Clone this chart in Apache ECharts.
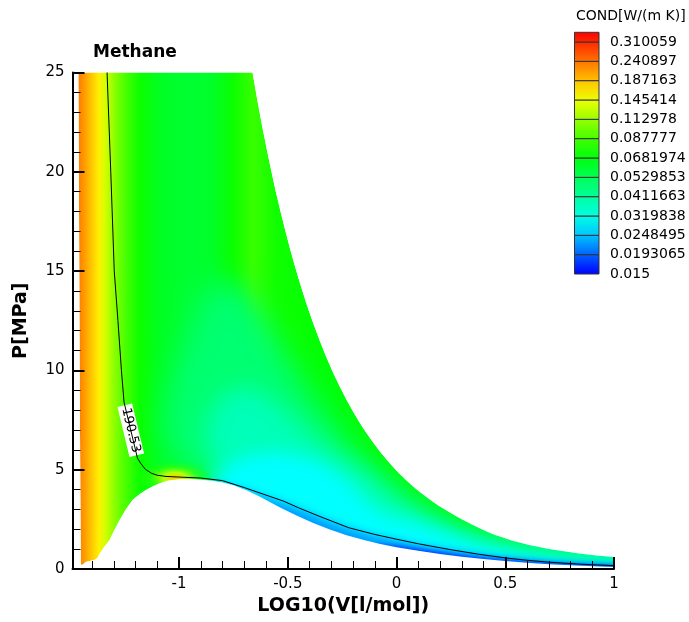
<!DOCTYPE html>
<html>
<head>
<meta charset="utf-8">
<title>Methane thermal conductivity</title>
<script src="https://cdn.jsdelivr.net/npm/echarts@6/dist/echarts.min.js"></script>
<style>
  html, body { margin: 0; padding: 0; background: #fff; }
  #chart { width: 689px; height: 622px; }
</style>
</head>
<body>
<div id="chart"></div>
<script>
// ---- Colour-bar levels of thermal conductivity, W/(m K) ----
const LEVELS = [0.015, 0.0193065, 0.0248495, 0.0319838, 0.0411663, 0.0529853, 0.0681974,
                0.087777, 0.112978, 0.145414, 0.187163, 0.240897, 0.310059];
const LEVEL_LABELS = ['0.015', '0.0193065', '0.0248495', '0.0319838', '0.0411663', '0.0529853',
                      '0.0681974', '0.087777', '0.112978', '0.145414', '0.187163', '0.240897', '0.310059'];
const BAR_TOP_K = 0.3518;   // conductivity at the top of the colour bar

// ---- Domain of the data: log10(V [l/mol]) vs P [MPa] ----
const LEFT_EDGE = [[-1.463, 25], [-1.460, 18], [-1.457, 10], [-1.454, 4], [-1.452, 0.2]];
const LOWER_EDGE = [
  [-1.452, 0.2], [-1.44, 0.24], [-1.43, 0.35], [-1.41, 0.4], [-1.39, 0.45], [-1.375, 0.55],
  [-1.363, 0.8], [-1.345, 1.1], [-1.32, 1.45], [-1.30, 1.9], [-1.274, 2.46], [-1.245, 3.0],
  [-1.214, 3.47], [-1.18, 3.78], [-1.15, 3.99], [-1.12, 4.17], [-1.09, 4.32], [-1.05, 4.45],
  [-1.0, 4.52], [-0.95, 4.53], [-0.9, 4.5], [-0.846, 4.44], [-0.8, 4.36], [-0.75, 4.22],
  [-0.69, 3.97], [-0.63, 3.65], [-0.54, 3.12], [-0.46, 2.7], [-0.386, 2.33], [-0.31, 2.0],
  [-0.23, 1.7], [-0.15, 1.46], [-0.08, 1.27], [0.0, 1.1], [0.1, 0.92], [0.2, 0.76], [0.3, 0.62],
  [0.4, 0.5], [0.5, 0.4], [0.6, 0.31], [0.7, 0.24], [0.85, 0.16], [1.0, 0.1]
];
const UPPER_EDGE = [
  [-0.662, 25], [-0.64, 23.6], [-0.618, 22.3], [-0.598, 21.2], [-0.578, 20.15], [-0.555, 19.0],
  [-0.53, 17.85], [-0.51, 16.98], [-0.49, 16.14], [-0.468, 15.28], [-0.446, 14.46], [-0.416, 13.42],
  [-0.386, 12.46], [-0.353, 11.49], [-0.32, 10.6], [-0.29, 9.85], [-0.26, 9.16], [-0.23, 8.52],
  [-0.2, 7.93], [-0.17, 7.38], [-0.14, 6.87], [-0.105, 6.33], [-0.07, 5.83], [-0.035, 5.37],
  [0.0, 4.95], [0.04, 4.52], [0.075, 4.17], [0.11, 3.85], [0.15, 3.52], [0.19, 3.21], [0.23, 2.94],
  [0.265, 2.72], [0.3, 2.5], [0.34, 2.28], [0.38, 2.06], [0.415, 1.89], [0.45, 1.73],
  [0.49, 1.58], [0.53, 1.44], [0.57, 1.32], [0.61, 1.21], [0.65, 1.12], [0.69, 1.03], [0.73, 0.96],
  [0.77, 0.89], [0.84, 0.78], [0.92, 0.68], [1.0, 0.6]
];

// ---- Conductivity across the dense (liquid / supercritical) side, by log10(V) ----
const LIQ_X = [-1.463, -1.43, -1.40, -1.37, -1.34, -1.30, -1.25, -1.18, -1.08, -0.95, -0.85,
               -0.75, -0.66, -0.55, -0.3, 1.0];
const LIQ_K = [0.235, 0.207, 0.182, 0.161, 0.135, 0.110, 0.090, 0.074, 0.063, 0.060, 0.062,
               0.074, 0.085, 0.075, 0.070, 0.068];

// ---- Iso-conductivity lines on the vapour side (log10(V), P) ----
const CONT_053 = [[-0.86, 4.3], [-0.9, 4.8], [-0.98, 5.3], [-1.04, 5.9], [-1.07, 7.5], [-1.04, 9.0],
  [-1.0, 10.5], [-0.95, 12.0], [-0.9, 13.5], [-0.84, 14.4], [-0.76, 14.6], [-0.67, 13.7],
  [-0.59, 12.4], [-0.52, 11.0], [-0.45, 9.8], [-0.38, 8.7], [-0.3, 7.5], [-0.22, 6.3],
  [-0.12, 5.2], [-0.03, 4.4], [0.08, 3.5], [0.17, 2.9], [0.3, 2.05], [0.45, 1.42], [0.6, 1.03],
  [0.8, 0.72], [1.05, 0.5]];
const CONT_041 = [[-0.82, 4.2], [-0.83, 5.0], [-0.87, 6.0], [-0.88, 7.0], [-0.85, 8.0], [-0.78, 8.9],
  [-0.68, 9.2], [-0.58, 8.6], [-0.48, 7.6], [-0.38, 6.6], [-0.28, 5.8], [-0.16, 5.0], [-0.08, 4.3],
  [0.0, 3.5], [0.075, 2.95], [0.2, 2.25], [0.35, 1.6], [0.53, 1.09], [0.7, 0.8], [0.85, 0.62],
  [1.05, 0.46]];
const CONT_032 = [[-0.84, 4.3], [-0.8, 5.0], [-0.72, 5.6], [-0.6, 5.9], [-0.47, 5.8], [-0.36, 5.4],
  [-0.28, 4.9], [-0.2, 4.2], [-0.14, 3.4], [-0.07, 2.8], [0.0, 2.55], [0.075, 2.4], [0.2, 1.9],
  [0.35, 1.35], [0.53, 0.88], [0.7, 0.6], [0.85, 0.45], [1.05, 0.33]];
const CONT_025 = [[-0.86, 4.3], [-0.8, 4.26], [-0.7, 3.97], [-0.6, 3.6], [-0.5, 3.25], [-0.4, 2.8],
  [-0.3, 2.36], [-0.2, 1.98], [-0.1, 1.68], [0.0, 1.45], [0.1, 1.2], [0.25, 0.93], [0.4, 0.68],
  [0.55, 0.5], [0.7, 0.34], [0.85, 0.25], [1.05, 0.17]];
const CONT_019 = [[-0.1, 1.2], [0.0, 1.15], [0.1, 0.99], [0.2, 0.84], [0.3, 0.69], [0.4, 0.57],
  [0.5, 0.47], [0.6, 0.38], [0.7, 0.3], [0.85, 0.22], [1.05, 0.14]];
const CONTOURS = [CONT_053, CONT_041, CONT_032, CONT_025, CONT_019];
// conductivity inside each iso-line (below the level it traces)
const CONT_INNER_K = [0.0479, 0.0372, 0.0289, 0.0225, 0.0170];

// ---- Critical point enhancement ----
const CRIT_POINT = [-1.02, 4.6];
const CRIT_K = 0.18;

// ---- Critical isotherm, T = 190.53 K ----
const ISO_T = 190.53;
const ISO = [[-1.331, 25], [-1.314, 20], [-1.298, 15], [-1.281, 12.5], [-1.265, 10], [-1.253, 8.4],
  [-1.191, 5.57], [-1.175, 5.3], [-1.155, 5.02], [-1.127, 4.82], [-1.1, 4.72], [-1.06, 4.66],
  [-1.0, 4.63], [-0.9, 4.58], [-0.8, 4.45], [-0.7, 4.1], [-0.6, 3.72], [-0.52, 3.42], [-0.45, 3.08],
  [-0.37, 2.72], [-0.3, 2.42], [-0.22, 2.08], [-0.1, 1.74], [0.0, 1.5], [0.1, 1.27], [0.245, 0.98],
  [0.38, 0.74], [0.506, 0.55], [0.6, 0.44], [0.705, 0.34], [0.85, 0.24], [1.0, 0.17]];
const ISO_LABEL_SEG = 5;   // label sits on the segment starting at this point

// ---------------------------------------------------------------------------
const FONT = 'DejaVu Sans';

// rainbow colour map over the level index (0 = 0.015 ... 12.5 = top of bar)
const RAMP = [[0, [0, 0, 255]], [2.6, [0, 255, 255]], [6.2, [0, 255, 0]], [9.2, [255, 255, 0]], [12.5, [255, 0, 0]]];

function kToIndex(k) {
  const n = LEVELS.length;
  for (let i = 0; i < n - 1; i++) {
    if (k < LEVELS[i + 1]) return i + Math.log(k / LEVELS[i]) / Math.log(LEVELS[i + 1] / LEVELS[i]);
  }
  return (n - 1) + Math.log(k / LEVELS[n - 1]) / Math.log(LEVELS[n - 1] / LEVELS[n - 2]);
}
function indexColor(t, a) {
  const alpha = a == null ? 1 : a;
  t = Math.max(RAMP[0][0], Math.min(RAMP[RAMP.length - 1][0], t));
  for (let i = 0; i < RAMP.length - 1; i++) {
    const [t0, c0] = RAMP[i], [t1, c1] = RAMP[i + 1];
    if (t <= t1) {
      const f = (t - t0) / (t1 - t0);
      const c = c0.map((v, j) => Math.round(v + (c1[j] - v) * f));
      return 'rgba(' + c[0] + ',' + c[1] + ',' + c[2] + ',' + alpha + ')';
    }
  }
  return 'rgba(255,0,0,' + alpha + ')';
}
function kColor(k, a) { return indexColor(kToIndex(k), a); }

const FAR_LEFT = -2, FAR_RIGHT = 2, FAR_BELOW = -5, FAR_ABOVE = 30;
// flood regions are painted only through their blurred shadow, so level changes stay smooth
const SHADOW_SHIFT = 2000;
const CONT_BLUR = [28, 22, 18, 9, 5];

function regionPolygon() {
  return LEFT_EDGE.concat(LOWER_EDGE.slice(1), UPPER_EDGE.slice().reverse());
}

const chart = echarts.init(document.getElementById('chart'), null, { renderer: 'canvas' });

const BAR_TOP_INDEX = kToIndex(BAR_TOP_K);

const option = {
  animation: false,
  backgroundColor: '#fff',
  textStyle: { fontFamily: FONT, color: '#000' },
  title: [
    { text: 'Methane', left: 93, top: 44, padding: 0,
      textStyle: { fontFamily: FONT, fontWeight: 'bold', fontSize: 17, color: '#000' } },
    { text: 'COND[W/(m K)]', left: 576, top: 9, padding: 0,
      textStyle: { fontFamily: FONT, fontWeight: 'normal', fontSize: 14, color: '#000' } }
  ],
  grid: [
    { left: 72.5, top: 72.5, width: 541.5, height: 496.5, outerBoundsMode: 'none' },
    { left: 574.5, top: 32.3, width: 24.5, height: 241.7, outerBoundsMode: 'none' }
  ],
  xAxis: [
    {
      gridIndex: 0, type: 'value', min: -1.49, max: 1, z: 10,
      name: 'LOG10(V[l/mol])', nameLocation: 'middle', nameGap: 21,
      nameTextStyle: { fontFamily: FONT, fontWeight: 'bold', fontSize: 19, color: '#000' },
      axisLine: { onZero: false, lineStyle: { color: '#000', width: 2 } },
      axisTick: { inside: true, length: 12, lineStyle: { color: '#000', width: 2 } },
      minorTick: { show: true, splitNumber: 5, length: 8, lineStyle: { color: '#000', width: 1 } },
      splitLine: { show: false },
      axisLabel: { color: '#000', fontFamily: FONT, fontSize: 15, margin: 8, showMinLabel: false }
    },
    { gridIndex: 1, type: 'value', min: 0, max: 1, show: false }
  ],
  yAxis: [
    {
      gridIndex: 0, type: 'value', min: 0, max: 25, interval: 5, z: 10,
      name: 'P[MPa]', nameLocation: 'middle', nameGap: 42,
      nameTextStyle: { fontFamily: FONT, fontWeight: 'bold', fontSize: 19, color: '#000' },
      axisLine: { onZero: false, lineStyle: { color: '#000', width: 2 } },
      axisTick: { inside: true, length: 12, lineStyle: { color: '#000', width: 2 } },
      minorTick: { show: true, splitNumber: 5, length: 8, lineStyle: { color: '#000', width: 1 } },
      splitLine: { show: false },
      axisLabel: { color: '#000', fontFamily: FONT, fontSize: 15, margin: 8 }
    },
    {
      gridIndex: 1, type: 'value', min: 0, max: BAR_TOP_INDEX, interval: 1, position: 'right', z: 20,
      axisLine: { show: false }, axisTick: { show: false }, splitLine: { show: false },
      axisLabel: {
        color: '#000', fontFamily: FONT, fontSize: 14, margin: 11,
        formatter: v => (Number.isInteger(v) && LEVEL_LABELS[v] != null) ? LEVEL_LABELS[v] : ''
      }
    }
  ],
  series: [
    // dense-side conductivity across the whole domain
    {
      type: 'custom', coordinateSystem: 'cartesian2d', xAxisIndex: 0, yAxisIndex: 0,
      clip: true, silent: true, data: [LEFT_EDGE[0]],
      renderItem(params, api) {
        const pts = regionPolygon().map(p => api.coord(p));
        const x0 = api.coord([LIQ_X[0], 0])[0];
        const x1 = api.coord([LIQ_X[LIQ_X.length - 1], 0])[0];
        const stops = LIQ_X.map((x, i) => ({
          offset: (api.coord([x, 0])[0] - x0) / (x1 - x0),
          color: kColor(LIQ_K[i])
        }));
        return {
          type: 'polygon', shape: { points: pts },
          style: { fill: new echarts.graphic.LinearGradient(x0, 0, x1, 0, stops, true) }
        };
      }
    },
    // vapour-side iso-conductivity regions, lowest conductivity drawn last
    {
      type: 'custom', coordinateSystem: 'cartesian2d', xAxisIndex: 0, yAxisIndex: 0,
      clip: true, silent: true, data: CONTOURS.map(c => c[0]),
      renderItem(params, api) {
        const i = params.dataIndex;
        const c = CONTOURS[i];
        const last = c[c.length - 1];
        const ring = c.concat([[FAR_RIGHT, last[1]], [FAR_RIGHT, FAR_BELOW], [c[0][0], FAR_BELOW]]);
        const col = kColor(CONT_INNER_K[i]);
        return {
          type: 'polygon', x: SHADOW_SHIFT,
          shape: { points: ring.map(p => api.coord(p)) },
          style: { fill: col, shadowBlur: CONT_BLUR[i], shadowColor: col, shadowOffsetX: -SHADOW_SHIFT }
        };
      }
    },
    // conductivity peak at the critical point
    {
      type: 'custom', coordinateSystem: 'cartesian2d', xAxisIndex: 0, yAxisIndex: 0,
      clip: true, silent: true, data: [CRIT_POINT],
      renderItem(params, api) {
        const c = api.coord(CRIT_POINT);
        const idx = kToIndex(CRIT_K);
        return {
          type: 'circle', x: c[0], y: c[1], scaleY: 0.45,
          shape: { cx: 0, cy: 0, r: 38 },
          style: {
            fill: new echarts.graphic.RadialGradient(0.5, 0.5, 0.5, [
              { offset: 0, color: indexColor(idx, 1) },
              { offset: 0.3, color: indexColor(idx - 1.3, 0.9) },
              { offset: 0.65, color: indexColor(7.0, 0.45) },
              { offset: 1, color: indexColor(6.5, 0) }
            ])
          }
        };
      }
    },
    // blank outside the domain: left strip + two-phase dome, and the high-volume corner
    {
      type: 'custom', coordinateSystem: 'cartesian2d', xAxisIndex: 0, yAxisIndex: 0,
      clip: true, silent: true, data: [LOWER_EDGE[0], UPPER_EDGE[0]],
      renderItem(params, api) {
        let ring;
        if (params.dataIndex === 0) {
          const lastLow = LOWER_EDGE[LOWER_EDGE.length - 1];
          ring = [[FAR_LEFT, FAR_ABOVE], [LEFT_EDGE[0][0], FAR_ABOVE]]
            .concat(LEFT_EDGE, LOWER_EDGE.slice(1),
              [[FAR_RIGHT, lastLow[1]], [FAR_RIGHT, FAR_BELOW], [FAR_LEFT, FAR_BELOW]]);
        } else {
          const lastUp = UPPER_EDGE[UPPER_EDGE.length - 1];
          ring = [[UPPER_EDGE[0][0], FAR_ABOVE]].concat(UPPER_EDGE,
            [[FAR_RIGHT, lastUp[1]], [FAR_RIGHT, FAR_ABOVE]]);
        }
        return { type: 'polygon', shape: { points: ring.map(p => api.coord(p)) }, style: { fill: '#fff' } };
      }
    },
    // critical isotherm
    {
      type: 'line', xAxisIndex: 0, yAxisIndex: 0, data: ISO, showSymbol: false, symbol: 'none',
      silent: true, clip: true, lineStyle: { color: '#000', width: 1 }
    },
    // isotherm label
    {
      type: 'custom', coordinateSystem: 'cartesian2d', xAxisIndex: 0, yAxisIndex: 0,
      clip: false, silent: true, data: [ISO[ISO_LABEL_SEG]],
      renderItem(params, api) {
        const a = api.coord(ISO[ISO_LABEL_SEG]);
        const b = api.coord(ISO[ISO_LABEL_SEG + 1]);
        const ang = Math.atan2(b[1] - a[1], b[0] - a[0]);
        return {
          type: 'text', x: (a[0] + b[0]) / 2, y: (a[1] + b[1]) / 2, rotation: -ang,
          style: {
            text: String(ISO_T), x: 0, y: 0, align: 'center', verticalAlign: 'middle',
            fill: '#000', fontFamily: FONT, fontSize: 13,
            backgroundColor: '#fff', padding: [1, 3]
          }
        };
      }
    },
    // colour bar
    {
      type: 'custom', coordinateSystem: 'cartesian2d', xAxisIndex: 1, yAxisIndex: 1,
      silent: true, data: LEVELS.map((k, i) => [0.5, i]),
      renderItem(params, api) {
        const i = params.dataIndex;
        const top = i === LEVELS.length - 1 ? BAR_TOP_INDEX : i + 1;
        const p0 = api.coord([0, top]);
        const p1 = api.coord([1, i]);
        return {
          type: 'rect',
          shape: { x: p0[0], y: p0[1], width: p1[0] - p0[0], height: p1[1] - p0[1] },
          style: {
            fill: new echarts.graphic.LinearGradient(0, 0, 0, 1, [
              { offset: 0, color: indexColor(top) },
              { offset: 1, color: indexColor(i) }
            ]),
            stroke: '#333', lineWidth: 1
          }
        };
      }
    }
  ]
};

chart.setOption(option);
</script>
</body>
</html>
